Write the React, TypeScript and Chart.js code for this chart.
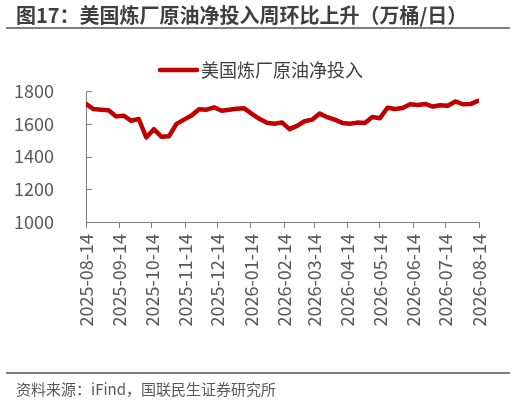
import React, { useEffect, useRef } from "react";
import { Chart, registerables } from "chart.js";

Chart.register(...registerables);

const TITLE = "图17：美国炼厂原油净投入周环比上升（万桶/日）";
const SERIES_NAME = "美国炼厂原油净投入";
const SOURCE = "资料来源：iFind，国联民生证券研究所";

const dates = [
  "2025-08-14", "2025-08-21", "2025-08-28", "2025-09-04", "2025-09-11", "2025-09-18", "2025-09-25",
  "2025-10-02", "2025-10-09", "2025-10-16", "2025-10-23", "2025-10-30", "2025-11-06", "2025-11-13",
  "2025-11-20", "2025-11-27", "2025-12-04", "2025-12-11", "2025-12-18", "2025-12-25", "2026-01-01",
  "2026-01-08", "2026-01-15", "2026-01-22", "2026-01-29", "2026-02-05", "2026-02-12", "2026-02-19",
  "2026-02-26", "2026-03-05", "2026-03-12", "2026-03-19", "2026-03-26", "2026-04-02", "2026-04-09",
  "2026-04-16", "2026-04-23", "2026-04-30", "2026-05-07", "2026-05-14", "2026-05-21", "2026-05-28",
  "2026-06-04", "2026-06-11", "2026-06-18", "2026-06-25", "2026-07-02", "2026-07-09", "2026-07-16",
  "2026-07-23", "2026-07-30", "2026-08-06", "2026-08-13",
];

const values = [
  1721, 1690, 1686, 1682, 1645, 1649, 1618, 1629, 1516, 1567,
  1521, 1523, 1599, 1625, 1650, 1688, 1686, 1700, 1679, 1686,
  1692, 1694, 1660, 1630, 1606, 1600, 1608, 1567, 1587, 1615,
  1625, 1662, 1640, 1625, 1605, 1600, 1607, 1605, 1641, 1634,
  1698, 1690, 1696, 1719, 1715, 1721, 1705, 1713, 1710, 1736,
  1719, 1720, 1740,
];

const xTickLabels = [
  "2025-08-14", "2025-09-14", "2025-10-14", "2025-11-14", "2025-12-14", "2026-01-14", "2026-02-14",
  "2026-03-14", "2026-04-14", "2026-05-14", "2026-06-14", "2026-07-14", "2026-08-14",
];

const yTicks = [1000, 1200, 1400, 1600, 1800];
const yTickLabels = ["1000", "1200", "1400", "1600", "1800"];

const RED = "#C00000";
const AXIS = "#808080";
const TEXT = "#595959";
const FONT = "'Noto Sans CJK SC', 'Noto Sans', sans-serif";

const dayOf = (d: string) => (Date.parse(d) - Date.parse(dates[0])) / 86400000;

const decorPlugin = {
  id: "decor",
  afterDraw(chart: any) {
    const ctx = chart.ctx as CanvasRenderingContext2D;
    const { chartArea } = chart;
    ctx.save();
    // title
    ctx.fillStyle = "#3f3f3f";
    ctx.font = `bold 20px ${FONT}`;
    ctx.textBaseline = "middle";
    ctx.textAlign = "left";
    ctx.fillText(TITLE, 16, 15);
    // rules
    ctx.strokeStyle = "#7f7f7f";
    ctx.lineWidth = 2;
    ctx.beginPath();
    ctx.moveTo(6, 28);
    ctx.lineTo(510, 28);
    ctx.moveTo(6, 373);
    ctx.lineTo(510, 373);
    ctx.stroke();
    // legend
    ctx.strokeStyle = RED;
    ctx.lineWidth = 4.5;
    ctx.lineCap = "round";
    ctx.beginPath();
    ctx.moveTo(160, 70);
    ctx.lineTo(197, 70);
    ctx.stroke();
    ctx.fillStyle = "#404040";
    ctx.font = `18px ${FONT}`;
    ctx.fillText(SERIES_NAME, 201, 70);
    // source
    ctx.fillStyle = TEXT;
    ctx.font = `15px ${FONT}`;
    ctx.fillText(SOURCE, 16, 389);
    // inward y ticks
    const y = chart.scales.y;
    ctx.strokeStyle = AXIS;
    ctx.lineWidth = 1;
    ctx.lineCap = "butt";
    ctx.beginPath();
    yTicks.forEach((v) => {
      const py = Math.round(y.getPixelForValue(v)) + 0.5;
      ctx.moveTo(chartArea.left, py);
      ctx.lineTo(chartArea.left + 6, py);
    });
    ctx.stroke();
    ctx.restore();
  },
};

export default function App() {
  const ref = useRef<HTMLCanvasElement>(null);
  useEffect(() => {
    if (!ref.current) return;
    const chart = new Chart(ref.current, {
      type: "line",
      data: {
        datasets: [
          {
            label: SERIES_NAME,
            data: dates.map((d, i) => ({ x: dayOf(d), y: values[i] })),
            borderColor: RED,
            backgroundColor: RED,
            borderWidth: 4.5,
            pointRadius: 0,
            tension: 0,
            borderJoinStyle: "round",
            borderCapStyle: "round",
          },
        ],
      },
      options: {
        responsive: false,
        animation: false,
        devicePixelRatio: 1,
        layout: { padding: { top: 91, right: 37, left: 0, bottom: 0 } },
        plugins: {
          legend: { display: false },
          title: { display: false },
          tooltip: { enabled: false },
        },
        scales: {
          x: {
            type: "linear",
            min: 0,
            max: dayOf(xTickLabels[xTickLabels.length - 1]),
            afterBuildTicks: (scale: any) => {
              scale.ticks = xTickLabels.map((d) => ({ value: dayOf(d) }));
            },
            afterFit: (scale: any) => {
              scale.height = 178;
            },
            ticks: {
              autoSkip: false,
              minRotation: 90,
              maxRotation: 90,
              padding: 6,
              color: TEXT,
              font: { size: 18, family: FONT },
              callback: (v: any) => {
                const i = xTickLabels.findIndex((d) => dayOf(d) === v);
                return i >= 0 ? xTickLabels[i] : "";
              },
            },
            grid: { display: true, drawOnChartArea: false, drawTicks: true, tickLength: 6, color: AXIS },
            border: { display: true, color: AXIS, width: 1 },
          },
          y: {
            min: 1000,
            max: 1800,
            afterBuildTicks: (scale: any) => {
              scale.ticks = yTicks.map((v) => ({ value: v }));
            },
            afterFit: (scale: any) => {
              scale.width = 86;
            },
            ticks: {
              padding: 24,
              color: TEXT,
              font: { size: 18, family: FONT },
              callback: (v: any) => {
                const i = yTicks.indexOf(Number(v));
                return i >= 0 ? yTickLabels[i] : "";
              },
            },
            grid: { display: false },
            border: { display: true, color: AXIS, width: 1 },
          },
        },
      },
      plugins: [decorPlugin],
    });
    return () => chart.destroy();
  }, []);
  return (
    <div style={{ position: "fixed", left: 0, top: 0, width: 516, height: 400, background: "#fff" }}>
      <canvas ref={ref} width={516} height={400} style={{ display: "block" }} />
    </div>
  );
}
